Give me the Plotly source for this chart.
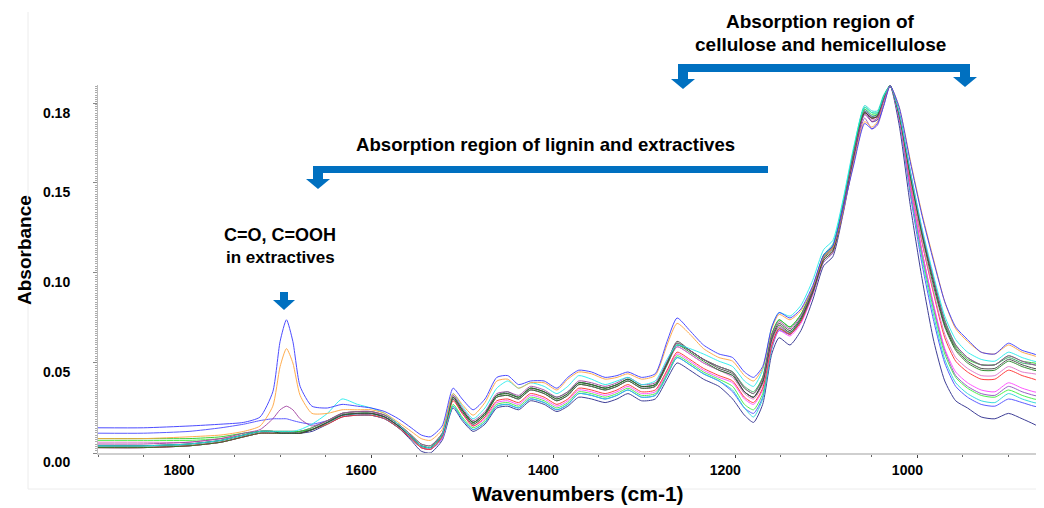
import plotly.graph_objects as go

# ---------------- data ----------------
wavenumbers = [1900, 1850, 1800, 1765, 1740, 1722, 1708, 1700, 1693, 1686, 1678, 1665,
               1648, 1632, 1615, 1600, 1585, 1570, 1556, 1545, 1535, 1522,
               1510, 1500, 1488, 1475, 1462, 1450, 1438, 1425, 1410, 1396, 1384, 1372,
               1358, 1343, 1330, 1318, 1303, 1288, 1275, 1264, 1250, 1235, 1218,
               1203, 1190, 1180, 1170, 1160, 1152, 1140, 1128, 1115, 1103, 1093, 1082,
               1070, 1058, 1050, 1044, 1037, 1030, 1020, 1008, 995,
               982, 970, 958, 945, 930, 915, 900, 885, 872, 861]

s_blue_top = [.014,.014,.015,.016,.017, .020,.034,.062,.074,.062,.037,.026,
              .025,.027,.026,.025,.023,.019, .014,.010,.009,.015,
              .036,.030,.024,.030,.042,.043,.038,.040,.040,.036,.042,.046,.045,.042,.043,.045,.042,.044,.062,.075,.068,.060,.055,
              .053,.045,.042,.048,.070, .078,.075,.080,.093,.110,.115,.135,
              .160,.183,.180,.183,.193,.204,.192,.162,.132,
              .106,.084,.070,.063,.056,.055,.061,.057,.055,.053]
s_orange = [.008,.008,.009,.010,.012, .015,.026,.048,.058,.050,.032,.022,
            .022,.024,.024,.024,.022,.017, .012,.008,.007,.013,
            .033,.027,.021,.028,.040,.041,.036,.039,.039,.035,.041,.045,.044,.041,.042,.044,.041,.043,.060,.072,.066,.058,.053,
            .051,.043,.040,.047,.069, .077,.074,.079,.092,.109,.114,.134,
            .161,.184,.181,.184,.194,.204,.192,.163,.133,
            .107,.084,.069,.062,.056,.055,.060,.056,.054,.052]
s_purple = [.005,.005,.006,.008,.011, .013,.019,.024,.026,.024,.019,.015,
            .018,.022,.023,.023,.021,.016, .010,.005,.004,.011,
            .032,.025,.018,.023,.033,.034,.032,.037,.035,.031,.034,.040,.039,.037,.039,.042,.038,.039,.051,.061,.057,.052,.048,
            .045,.036,.033,.041,.065, .073,.069,.076,.091,.109,.114,.136,
            .166,.188,.184,.186,.196,.204,.189,.157,.124,
            .096,.073,.060,.053,.049,.049,.054,.051,.049,.048]
s_cyan = [.004,.004,.005,.007,.010, .012,.012,.012,.012,.012,.013,.016,
          .022,.030,.027,.025,.022,.016, .009,.004,.003,.010,
          .033,.026,.019,.025,.036,.040,.036,.039,.037,.033,.037,.043,.041,.038,.040,.042,.038,.040,.052,.060,.058,.055,.051,
          .048,.040,.037,.046,.070, .078,.076,.082,.096,.113,.118,.140,
          .170,.192,.189,.189,.198,.204,.189,.157,.125,
          .098,.076,.063,.056,.052,.051,.056,.053,.051,.050]
s_green = [.008,.008,.008,.009,.011, .012,.012,.012,.012,.012,.012,.014,
           .018,.022,.023,.023,.021,.016, .010,.005,.004,.011,
           .031,.024,.017,.022,.032,.033,.031,.036,.034,.030,.033,.039,.038,.036,.038,.041,.037,.038,.050,.061,.057,.052,.048,
           .045,.036,.033,.042,.066, .074,.070,.077,.092,.110,.115,.137,
           .168,.192,.189,.189,.198,.204,.188,.155,.122,
           .095,.072,.059,.052,.049,.049,.054,.051,.050,.049]
s_dark = [.004,.004,.005,.007,.010, .012,.012,.011,.011,.011,.011,.013,
          .017,.021,.022,.022,.020,.015, .009,.004,.003,.010,
          .031,.024,.017,.022,.032,.033,.031,.036,.034,.030,.033,.039,.038,.036,.038,.041,.037,.038,.050,.062,.057,.052,.047,
          .044,.034,.031,.040,.064, .072,.068,.075,.090,.108,.113,.135,
          .165,.189,.186,.187,.197,.204,.188,.155,.122,
          .094,.071,.058,.051,.047,.047,.052,.049,.047,.046]
s_darkgreen = [.003,.003,.004,.006,.009, .011,.011,.011,.011,.011,.011,.013,
               .017,.021,.022,.022,.020,.015, .009,.004,.003,.010,
               .030,.023,.016,.021,.031,.032,.030,.035,.033,.029,.032,.038,.037,.035,.037,.040,.036,.037,.049,.060,.056,.051,.046,
               .043,.034,.031,.039,.063, .071,.067,.074,.089,.107,.112,.134,
               .165,.189,.186,.187,.197,.204,.188,.154,.121,
               .092,.070,.057,.050,.046,.046,.051,.048,.046,.045]
s_red = [.003,.003,.004,.006,.009, .011,.011,.011,.011,.011,.011,.013,
         .016,.020,.021,.021,.019,.014, .008,.003,.002,.009,
         .029,.022,.015,.020,.029,.030,.028,.033,.031,.027,.030,.036,.035,.033,.035,.038,.034,.035,.046,.056,.052,.047,.043,
         .040,.031,.028,.036,.060, .069,.066,.073,.089,.107,.112,.134,
         .164,.189,.186,.187,.197,.204,.187,.151,.117,
         .088,.064,.051,.045,.041,.041,.046,.043,.041,.039]
s_magenta = [.003,.003,.004,.006,.009, .011,.011,.011,.011,.011,.012,.014,
             .018,.022,.023,.023,.020,.015, .008,.003,.002,.008,
             .030,.022,.015,.019,.028,.029,.027,.032,.030,.026,.029,.035,.034,.032,.034,.037,.033,.034,.045,.055,.051,.046,.042,
             .039,.030,.027,.035,.059, .068,.065,.072,.088,.107,.112,.134,
             .165,.190,.186,.187,.197,.204,.186,.148,.112,
             .082,.058,.045,.039,.035,.034,.039,.036,.034,.033]
s_violet = [.004,.004,.005,.007,.010, .012,.012,.012,.012,.012,.012,.013,
            .017,.021,.022,.022,.020,.015, .009,.004,.003,.010,
            .030,.023,.016,.021,.031,.032,.030,.035,.033,.029,.032,.038,.037,.035,.037,.040,.036,.037,.049,.059,.055,.050,.046,
            .043,.034,.031,.039,.062, .070,.066,.073,.088,.106,.111,.133,
            .163,.186,.180,.182,.193,.204,.186,.148,.112,
            .081,.057,.043,.037,.033,.032,.037,.034,.032,.031]
s_lime = [.007,.007,.007,.008,.010, .012,.012,.012,.012,.012,.012,.013,
          .017,.022,.022,.022,.020,.015, .008,.003,.002,.009,
          .027,.020,.014,.018,.027,.028,.026,.031,.029,.025,.028,.034,.033,.031,.033,.036,.032,.033,.044,.054,.050,.045,.041,
          .037,.027,.024,.033,.059, .069,.066,.074,.090,.109,.114,.136,
          .166,.191,.188,.188,.198,.204,.186,.147,.110,
          .079,.055,.042,.036,.032,.031,.035,.032,.030,.029]
s_cyan2 = [.004,.004,.004,.006,.009, .011,.011,.011,.011,.011,.011,.013,
           .016,.021,.021,.021,.019,.014, .008,.003,.002,.008,
           .026,.019,.013,.017,.026,.027,.025,.030,.028,.024,.027,.033,.032,.030,.032,.035,.031,.032,.043,.053,.049,.044,.040,
           .035,.025,.020,.030,.058, .069,.067,.075,.091,.110,.116,.139,
           .169,.193,.190,.190,.199,.204,.186,.146,.108,
           .076,.052,.039,.033,.029,.028,.033,.030,.028,.027]
s_blue2 = [.011,.011,.012,.014,.016, .018,.019,.019,.019,.018,.017,.016,
           .018,.021,.021,.021,.019,.014, .008,.003,.002,.008,
           .026,.019,.013,.017,.026,.027,.025,.030,.028,.024,.027,.033,.032,.030,.032,.035,.031,.032,.043,.053,.049,.044,.040,
           .034,.025,.022,.031,.058, .068,.066,.074,.090,.109,.114,.137,
           .167,.191,.187,.188,.198,.204,.185,.144,.105,
           .073,.050,.037,.031,.027,.026,.030,.028,.026,.025]
s_navy = [.003,.003,.004,.006,.009, .011,.011,.011,.011,.011,.011,.012,
          .016,.020,.021,.021,.019,.014, .007,.001,.000,.007,
          .025,.018,.012,.016,.025,.026,.024,.029,.027,.023,.026,.031,.030,.028,.030,.033,.029,.030,.041,.050,.046,.041,.037,
          .030,.021,.017,.027,.055, .064,.060,.068,.085,.104,.109,.132,
          .163,.190,.184,.185,.196,.204,.182,.138,.097,
          .062,.040,.029,.025,.020,.019,.022,.019,.016,.013]
s_pink = [.006,.006,.006,.008,.010, .012,.012,.012,.012,.012,.012,.014,
          .018,.022,.023,.023,.021,.016, .009,.004,.003,.010,
          .032,.024,.017,.022,.031,.032,.030,.035,.033,.029,.032,.038,.037,.035,.037,.040,.036,.037,.049,.059,.055,.050,.046,
          .042,.033,.030,.038,.062, .070,.067,.074,.089,.107,.112,.134,
          .164,.188,.185,.186,.196,.204,.187,.152,.118,
          .089,.066,.053,.047,.043,.043,.048,.045,.044,.043]
s_seagreen = [.004,.004,.005,.007,.010, .012,.012,.011,.011,.011,.012,.013,
              .017,.021,.022,.022,.020,.015, .009,.004,.003,.010,
              .031,.024,.017,.022,.032,.034,.031,.036,.034,.031,.034,.039,.038,.036,.038,.041,.037,.038,.050,.060,.057,.052,.048,
              .045,.037,.034,.042,.066, .074,.070,.077,.091,.109,.114,.136,
              .167,.190,.187,.188,.197,.204,.188,.156,.123,
              .096,.074,.060,.053,.049,.049,.053,.050,.049,.048]

series = [
    ("navy", s_navy, "#2a2a8c"),
    ("blue2", s_blue2, "#4b4bff"),
    ("cyan2", s_cyan2, "#22d8d8"),
    ("lime", s_lime, "#3cf03c"),
    ("violet", s_violet, "#9050c0"),
    ("magenta", s_magenta, "#ff44ff"),
    ("red", s_red, "#ff2a2a"),
    ("pink", s_pink, "#e070c8"),
    ("darkgreen", s_darkgreen, "#1f7f1f"),
    ("seagreen", s_seagreen, "#2ea05a"),
    ("green", s_green, "#22cc22"),
    ("dark", s_dark, "#3c3c3c"),
    ("purple", s_purple, "#a040a0"),
    ("cyan", s_cyan, "#22eeee"),
    ("orange", s_orange, "#ffa53c"),
    ("blue_top", s_blue_top, "#3a3aff"),
]

y_tick_vals = [0.0, 0.05, 0.10, 0.15, 0.194]
y_tick_text = ["0.00", "0.05", "0.10", "0.15", "0.18"]
x_tick_vals = [1800, 1600, 1400, 1200, 1000]

# ---------------- layout helpers ----------------
# The page body adds an 8px margin, so the figure is drawn 8px in from the corner.
OFF = 8
W, H = 1044 - OFF, 508 - OFF
PL, PR, PT, PB = 98, 1044, 85, 453  # plot area in screen px


def fx(px):
    return (px - PL) / (PR - PL)


def fy(py):
    return (PB - py) / (PB - PT)


BLUE = "#0070C0"
fig = go.Figure()
for name, vals, col in series:
    fig.add_trace(go.Scatter(x=wavenumbers, y=vals, mode="lines", name=name,
                             line=dict(color=col, width=1, shape="spline", smoothing=0.6),
                             opacity=0.9, showlegend=False, hoverinfo="skip"))

shapes = []


def rect(x0, y0, x1, y1):
    shapes.append(dict(type="rect", xref="paper", yref="paper", x0=fx(x0), x1=fx(x1),
                       y0=fy(y1), y1=fy(y0), fillcolor=BLUE, line=dict(width=0), layer="above"))


def tri(pts):
    d = "M " + " L ".join(f"{fx(a):.5f},{fy(b):.5f}" for a, b in pts) + " Z"
    shapes.append(dict(type="path", xref="paper", yref="paper", path=d,
                       fillcolor=BLUE, line=dict(width=0), layer="above"))


# cellulose bracket
rect(678, 64, 970, 72)
rect(678, 64, 688, 80)
tri([(671, 79), (695, 79), (683, 89)])
rect(960, 64, 970, 78)
tri([(953, 77), (977, 77), (965, 87)])
# lignin bracket
rect(313, 166, 768, 173)
rect(313, 166, 323, 180)
tri([(306, 179), (330, 179), (318, 189)])
# C=O arrow
rect(280, 292, 288, 301)
tri([(273, 300), (295, 300), (284, 310)])

# faint outer frame
shapes.append(dict(type="line", xref="paper", yref="paper", x0=fx(28), x1=fx(28), y0=fy(489), y1=fy(12),
                   line=dict(color="#ececec", width=1), layer="below"))
shapes.append(dict(type="line", xref="paper", yref="paper", x0=fx(28), x1=fx(1044), y0=fy(489), y1=fy(489),
                   line=dict(color="#ececec", width=1), layer="below"))

TXT = "Liberation Sans, Arial, sans-serif"


def label(text, px, py, size, angle=0):
    return dict(text=f"<b>{text}</b>", x=fx(px), y=fy(py), xref="paper", yref="paper",
                xanchor="center", yanchor="middle", textangle=angle, showarrow=False,
                font=dict(family=TXT, size=size, color="#000"))


annotations = [
    label("Absorption region of", 820, 22, 19),
    label("cellulose and hemicellulose", 820, 45, 19),
    label("Absorption region of lignin and extractives", 545, 145, 18.6),
    label("C=O, C=OOH", 280, 235, 18),
    label("in extractives", 280, 257, 17),
    label("Wavenumbers (cm-1)", 578, 494, 21),
    label("Absorbance", 24, 250, 19, angle=-90),
]

fig.update_layout(
    width=W, height=H,
    margin=dict(l=PL - OFF, r=W - (PR - OFF), t=PT - OFF, b=H - (PB - OFF), autoexpand=False),
    paper_bgcolor="white", plot_bgcolor="white",
    shapes=shapes, annotations=annotations,
    xaxis=dict(range=[1900, 861], tickmode="array", tickvals=x_tick_vals, automargin=False,
               showgrid=False, zeroline=False, showline=True, linecolor="#cfcfcf", linewidth=2,
               ticks="outside", ticklen=3, tickcolor="#444", tickwidth=1,
               ticklabelshift=10, ticklabelstandoff=0,
               tickfont=dict(family=TXT, size=14, color="#000", weight="bold"),
               minor=dict(tickmode="linear", tick0=0, dtick=50, ticks="outside", ticklen=2,
                          tickcolor="#666", showgrid=False)),
    yaxis=dict(range=[0, 0.2044], tickmode="array", tickvals=y_tick_vals, ticktext=y_tick_text,
               automargin=False,
               showgrid=False, zeroline=False, showline=True, linecolor="#bbbbbb", linewidth=1,
               ticks="outside", ticklen=4, tickcolor="#888", tickwidth=1,
               ticklabelshift=9, ticklabelstandoff=20,
               tickfont=dict(family=TXT, size=14, color="#000", weight="bold"),
               minor=dict(tickmode="linear", tick0=0, dtick=0.00125, ticks="outside", ticklen=2,
                          tickcolor="#aaa", showgrid=False)),
)

fig.write_html("out.html")
